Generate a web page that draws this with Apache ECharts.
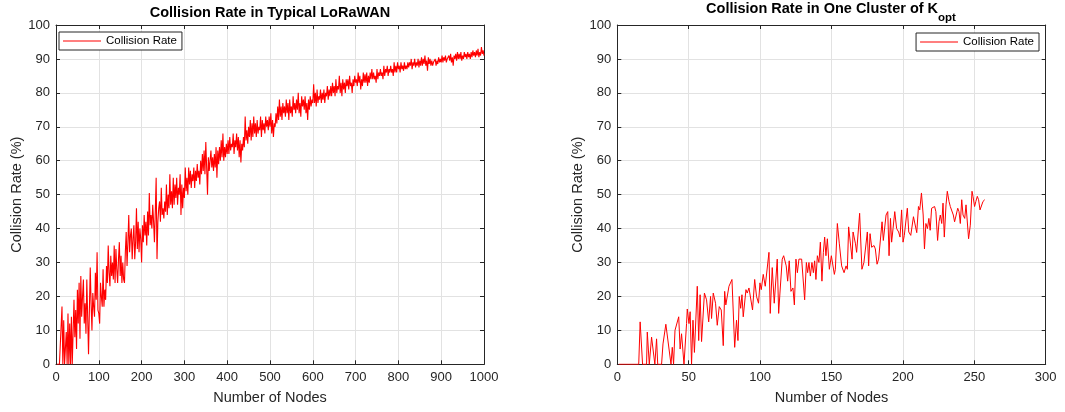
<!DOCTYPE html>
<html>
<head>
<meta charset="utf-8">
<script src="https://cdn.jsdelivr.net/npm/echarts@6/dist/echarts.min.js"></script>
<style>html,body{margin:0;padding:0;background:#fff;}#c{width:1065px;height:412px;}</style>
</head>
<body>
<div id="c"></div>
<script>
// ---- Left chart: Collision Rate in Typical LoRaWAN (nodes 2..1000, step 2) ----
const leftStep = 2;
const leftRate = [
  0, 0, 0, 0, 0, 0, 17, 0, 13, 0,
  0, 9.5, 0, 15, 0, 12, 0, 14, 0, 0,
  19, 8, 16, 4.5, 22, 12, 24, 7.5, 26, 14,
  20, 25, 12, 18, 9, 25, 14, 3, 16, 28.5,
  18, 10, 21, 17, 14, 27, 19, 33, 16, 15,
  12, 24, 20, 17, 28, 17, 22, 19, 29, 24,
  35, 27, 23, 32, 26, 30, 25, 35, 24, 34,
  28, 24, 31, 36, 26, 32, 24, 30, 25, 24,
  33, 39, 29, 36, 44, 33, 38, 40, 31, 37,
  41, 31, 36, 46, 34, 42, 33, 40, 37, 30,
  41, 36, 44, 38, 42, 35, 45, 38, 50.5, 41,
  44, 40, 47, 42, 36, 45, 55, 31, 42, 46,
  48, 42, 52, 44, 46, 43, 48, 45, 53, 44,
  50, 46, 56, 47, 51, 46, 55, 47, 53, 49,
  55, 47, 52, 50, 56, 44, 53, 46, 52, 49,
  58, 51, 55, 50, 58, 53, 57, 52, 56, 54,
  58, 52, 57, 54, 59, 55, 57, 53, 60, 56,
  62, 57, 63, 56, 65.5, 58, 50, 61, 57, 60,
  63, 58, 61, 57, 62, 58, 64, 55, 63, 59,
  64, 60, 66, 61, 68, 60, 64, 61, 65, 62,
  66, 62, 67, 63, 65, 64, 68, 62, 66, 64,
  68, 63, 67, 61, 66, 59.5, 65, 63, 67, 64,
  73, 66, 69, 65, 70, 67, 72, 66, 71, 67,
  73, 68, 71, 67, 72, 68, 70, 69, 73, 67,
  72, 69, 71, 68, 73, 70, 72, 69, 73, 70,
  74, 68, 72, 67, 71, 70, 74, 71, 76, 72,
  78, 73, 76, 72, 77, 74, 76, 73, 78, 74,
  77, 72, 78, 74, 76, 73, 79, 75, 77, 74,
  78, 75, 80, 74, 77, 73, 79, 76, 78, 75,
  79, 74, 77, 72, 78, 75, 79, 76, 78, 77,
  82.5, 77, 80, 76, 81, 77, 79, 78, 81, 77,
  80, 78, 81, 77, 80, 79, 82, 78, 81, 79,
  82, 79, 83, 80, 82, 79, 84, 80, 82, 81,
  85, 80, 83, 79, 84, 81, 83, 80, 84, 82,
  84, 81, 85, 82, 83, 80, 84, 82, 85, 83,
  84, 82, 86, 83, 85, 81, 84, 82, 86, 83,
  85.5, 83, 86, 82, 85, 83, 86, 84, 87, 84,
  86, 84, 85, 83, 87, 84, 86, 85, 87, 85,
  86, 84, 88, 85, 87, 86, 88, 85, 87, 86,
  88, 86, 87, 85, 89, 86, 88, 86, 89, 87,
  88, 86, 89, 87, 88, 86.5, 89, 87, 88, 87,
  89, 87.5, 89, 88, 90, 87, 89, 88, 90, 87.5,
  89, 88, 90, 87.5, 89.5, 88, 90.5, 88, 90, 88.5,
  91, 88, 89.5, 86.5, 90.5, 88.5, 90, 88, 89.5, 88,
  89, 88.5, 90, 88, 89.5, 88.5, 90.5, 89, 90, 89,
  91, 89, 90.5, 89.5, 91, 89, 90, 89.5, 91, 89.5,
  91.5, 89, 90.5, 88, 91, 90, 91.5, 89.5, 92, 90,
  91.5, 90, 92, 89.5, 91, 90, 92, 90.5, 91.5, 90,
  92, 90.5, 91.5, 90, 92, 90.5, 92.5, 91, 92, 90.5,
  92.5, 91, 93, 90.5, 92, 91, 93.5, 91.5, 92.5, 91
];

// ---- Right chart: Collision Rate in One Cluster of K_opt ----
const rightNodes = [
  1, 15, 16, 17.7, 20.5, 21, 22.4, 24, 25, 26.3, 27.5, 28.3, 31, 32, 33, 34, 35, 37.6, 38.5, 39.4,
  40.4, 41.5, 43, 44, 45, 46.7, 47.4, 48.5, 49, 50.2, 51, 52, 53, 54, 56, 57, 58, 59, 61, 62.5,
  64, 65.3, 66, 67.2, 68.8, 70, 71.4, 72.8, 74.2, 75.2, 76, 77, 78.2, 80.3, 82.2, 83.5, 84.5, 85.4, 86.4, 87.3,
  88.2, 90.1, 91, 92.2, 94.7, 96.2, 97.5, 98.9, 99.9, 100.8, 102.2, 103.6, 105, 106.2, 107.1, 108.5, 109.9, 112, 113, 113.9,
  115.5, 116.5, 118.3, 119.3, 120.4, 121.6, 123, 124, 125.1, 126.1, 127.2, 129.1, 131.2, 132.4, 133.3, 134.2, 135.2, 136.3, 137.3, 138.2,
  139.1, 140.1, 141.2, 142.2, 143.3, 144.3, 145.2, 146.1, 147.1, 148.5, 149.9, 150.8, 152, 152.7, 154.1, 155.5, 157.1, 158.8, 160.2, 161.1,
  162, 164.4, 165.1, 166.8, 167.6, 169.7, 171.3, 172.7, 174.1, 175.1, 176, 177, 178.1, 179.8, 180.7, 181.9, 183, 184, 185.4, 186.3,
  187.3, 188.2, 189.4, 190.3, 191.3, 192.1, 193.1, 194.3, 195.6, 197, 198, 199.1, 200.1, 201, 203.1, 204.1, 205.5, 207.4, 208.8, 209.7,
  210.9, 211.8, 213, 214.2, 215.1, 216.1, 217.2, 218.2, 219.1, 220.1, 221, 222.2, 223.1, 224.3, 225.3, 226.2, 227.2, 228.1, 229, 230.2,
  231.1, 232.3, 233.2, 234.2, 235.3, 236.2, 237.4, 238.4, 239.3, 240.2, 241.2, 242.1, 243.3, 244.2, 245.1, 246, 247.2, 248.4, 249.1, 250.2,
  251.1, 252.1, 253, 254, 254.9, 256.1, 257.3
];
const rightRate = [
  0, 0, 12.5, 0, 0, 9.5, 0, 8, 8, 0, 7.5, 0, 0, 6, 6, 11.8, 11.5, 0, 5, 0,
  10, 10, 14, 4.5, 9, 0, 0, 12, 16.3, 12, 15.5, 0, 13, 3.5, 23, 7, 20.5, 6.7, 21, 19,
  12.5, 20, 13.5, 21, 18, 11.5, 17, 16, 5.5, 21.5, 17.5, 17, 23, 25, 5, 13, 7, 20, 16.5, 20.5,
  14, 22, 21, 22.5, 16, 25, 20, 18, 24, 22, 26.5, 23, 23, 33, 15, 28.5, 18, 31, 15, 21,
  31, 32, 29, 24.5, 30.5, 21.5, 22.5, 17.5, 31, 27, 31, 31, 19, 30, 27, 30, 26, 30, 27, 30.5,
  25, 32, 30, 36, 24.5, 33, 37.5, 32, 37, 28, 32, 32, 26.5, 28, 41.5, 35.5, 29, 27, 29, 28,
  40.5, 31, 39, 35.5, 33, 44.5, 28, 30, 29.5, 39, 29, 38.5, 34.5, 35, 34, 29.5, 31, 31.5, 42, 36.5,
  37, 44, 45, 32, 43, 36, 40, 45, 40, 39, 37.5, 45.5, 36, 38, 46, 39, 38, 43.5, 43, 38.8,
  46.5, 45.5, 50.5, 44, 34, 41.5, 40, 43, 39.5, 46, 46, 46.5, 45, 36.5, 42, 44, 41.5, 47.5, 37.5, 47,
  51, 48, 46.5, 47, 44, 42, 42.5, 46, 45, 41.5, 48.5, 44, 43, 47, 47, 37, 41, 51, 49.5, 46.5,
  48, 49.5, 48.5, 45.5, 45.5, 48, 48.5
];

// Tick / axis configuration values
const leftXMax = 1000, leftXInterval = 100;
const rightXMax = 300, rightXInterval = 50;
const yMax = 100, yInterval = 10;

const leftData = leftRate.map((v, i) => [(i + 1) * leftStep, v]);
const rightData = rightNodes.map((n, i) => [n, rightRate[i]]);

const FONT = 'Liberation Sans, Arial, Helvetica, sans-serif';
const AX = '#262626';
const GRIDC = '#e2e2e2';

function xAx(grid, max, interval, pos) {
  const main = pos === 'bottom';
  return {
    gridIndex: grid, type: 'value', min: 0, max: max, interval: interval, position: pos,
    axisLine: { show: true, onZero: false, lineStyle: { color: AX, width: 1 } },
    axisTick: { show: true, inside: true, length: 4, lineStyle: { color: AX } },
    axisLabel: { show: main, margin: 7, fontSize: 13, color: AX, fontFamily: FONT, formatter: v => String(v) },
    splitLine: { show: main, lineStyle: { color: GRIDC, width: 1 } },
    name: main ? 'Number of Nodes' : '',
    nameLocation: 'middle', nameGap: 26,
    nameTextStyle: { fontSize: 14.5, color: AX, fontFamily: FONT }
  };
}
function yAx(grid, pos) {
  const main = pos === 'left';
  return {
    gridIndex: grid, type: 'value', min: 0, max: yMax, interval: yInterval, position: pos,
    axisLine: { show: true, onZero: false, lineStyle: { color: AX, width: 1 } },
    axisTick: { show: true, inside: true, length: 4, lineStyle: { color: AX } },
    axisLabel: { show: main, margin: 6, fontSize: 13, color: AX, fontFamily: FONT },
    splitLine: { show: main, lineStyle: { color: GRIDC, width: 1 } },
    name: main ? 'Collision Rate (%)' : '',
    nameLocation: 'middle', nameGap: 29,
    nameTextStyle: { fontSize: 14.5, color: AX, fontFamily: FONT }
  };
}

const legendBase = {
  data: ['Collision Rate'],
  orient: 'horizontal',
  icon: 'rect',
  itemWidth: 38, itemHeight: 1.2, itemGap: 5,
  padding: [3, 5, 3, 4],
  borderColor: AX, borderWidth: 1, borderRadius: 0,
  backgroundColor: '#fff',
  textStyle: { fontSize: 11.5, color: '#000', fontFamily: FONT },
  selectedMode: false
};

const chart = echarts.init(document.getElementById('c'), null, { renderer: 'canvas' });
chart.setOption({
  animation: false,
  backgroundColor: '#fff',
  title: [
    {
      text: 'Collision Rate in Typical LoRaWAN',
      left: 270, top: 5, textAlign: 'center', padding: 0,
      textStyle: { fontSize: 14.5, fontWeight: 'bold', color: '#000', fontFamily: FONT }
    },
    {
      text: '{t|Collision Rate in One Cluster of K}{s|opt}',
      left: 831, top: 1, textAlign: 'center', padding: 0,
      textStyle: {
        fontFamily: FONT,
        rich: {
          t: { fontSize: 14.5, fontWeight: 'bold', color: '#000', fontFamily: FONT, lineHeight: 22, verticalAlign: 'top', padding: [0, 0, 0, 0] },
          s: { fontSize: 11.5, fontWeight: 'bold', color: '#000', fontFamily: FONT, lineHeight: 22, verticalAlign: 'top', padding: [11, 0, 0, 0] }
        }
      }
    }
  ],
  legend: [
    Object.assign({}, legendBase, { left: 59, top: 32 }),
    Object.assign({}, legendBase, { right: 26, top: 33 })
  ],
  grid: [
    { left: 56, top: 25, width: 428, height: 339.3, containLabel: false },
    { left: 617.3, top: 25, width: 428.4, height: 339.3, containLabel: false }
  ],
  xAxis: [
    xAx(0, leftXMax, leftXInterval, 'bottom'),
    xAx(0, leftXMax, leftXInterval, 'top'),
    xAx(1, rightXMax, rightXInterval, 'bottom'),
    xAx(1, rightXMax, rightXInterval, 'top')
  ],
  yAxis: [
    yAx(0, 'left'), yAx(0, 'right'), yAx(1, 'left'), yAx(1, 'right')
  ],
  series: [
    {
      name: 'Collision Rate', type: 'line', xAxisIndex: 0, yAxisIndex: 0,
      data: leftData, symbol: 'none', showSymbol: false,
      lineStyle: { color: '#ff0000', width: 1.1 }, itemStyle: { color: '#ff0000' },
      z: 3
    },
    {
      name: 'Collision Rate', type: 'line', xAxisIndex: 2, yAxisIndex: 2,
      data: rightData, symbol: 'none', showSymbol: false,
      lineStyle: { color: '#ff0000', width: 1 }, itemStyle: { color: '#ff0000' },
      z: 3
    }
  ]
});
</script>
</body>
</html>
